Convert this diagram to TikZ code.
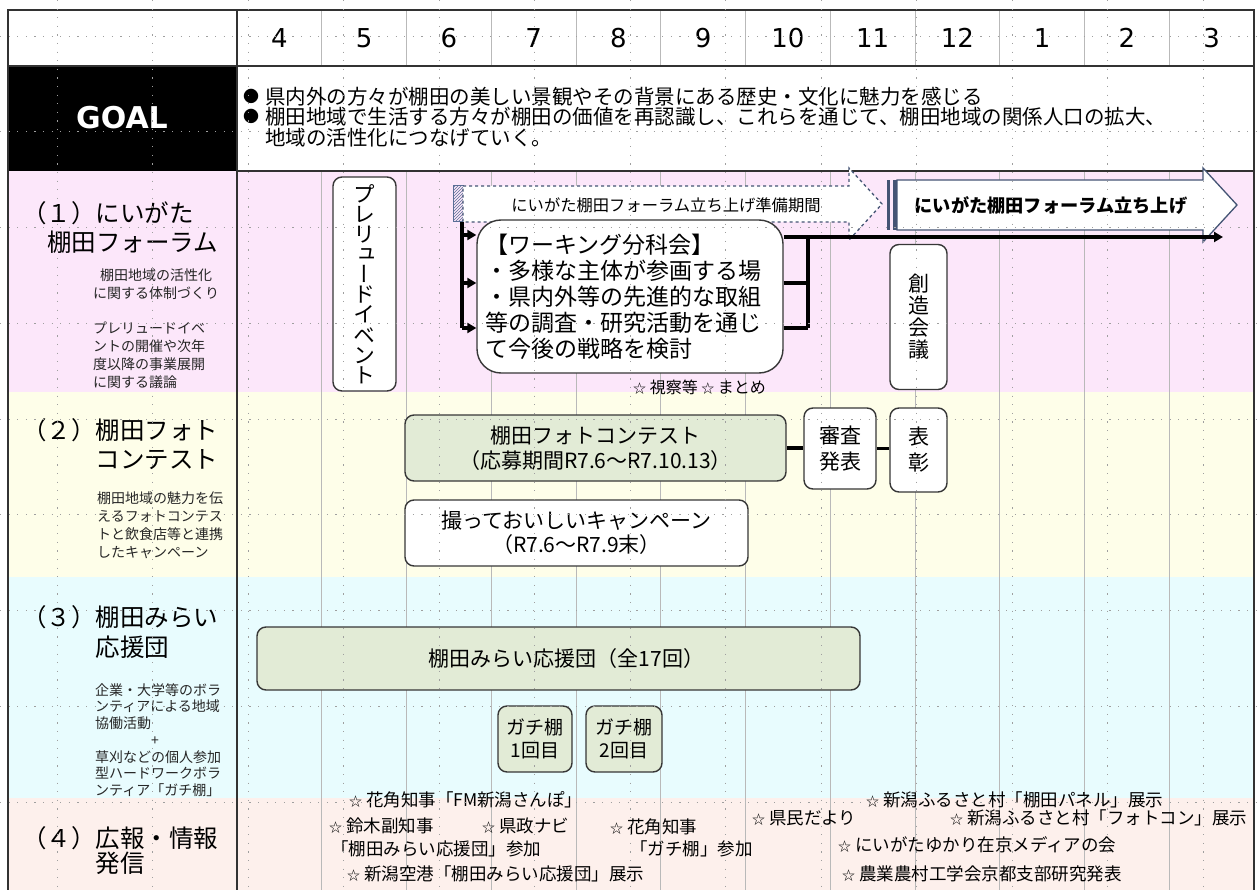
\documentclass[tikz,border=0pt]{standalone}
\usepackage{fontspec}
\usepackage{graphicx}
\setmainfont{Noto Sans CJK JP}
\newfontfamily\latinfont{DejaVu Sans}
\newfontfamily\vertfont[RawFeature={+vert}]{Noto Sans CJK JP}
\usetikzlibrary{arrows.meta,patterns,positioning}
\definecolor{rowpink}{RGB}{252,231,250}
\definecolor{rowyellow}{RGB}{254,254,233}
\definecolor{rowcyan}{RGB}{232,252,254}
\definecolor{rowpeach}{RGB}{253,240,236}
\definecolor{boxgreen}{RGB}{226,235,214}
\definecolor{boxgray}{RGB}{55,55,55}
\definecolor{arrowblue}{RGB}{68,84,116}
\definecolor{hatchblue}{RGB}{90,110,150}
\definecolor{framegray}{RGB}{50,50,50}
\newcommand{\hoshi}{{\fontsize{13}{13}\selectfont ☆}}
\newcommand{\goalbul}{\makebox[22pt][l]{\raisebox{2pt}{\fontsize{16}{16}\selectfont ●}}}

\begin{document}
\begin{tikzpicture}[x=1pt,y=-1pt]
\tikzstyle{tableline}=[draw=framegray,line width=2pt]
\tikzstyle{colline}=[draw=gray!55,line width=0.9pt]
\tikzstyle{dotgrid}=[draw=gray!75,line width=0.9pt,dash pattern=on 1.2pt off 7.4pt]
\tikzstyle{month}=[inner sep=0pt,font=\latinfont\fontsize{26}{26}\selectfont]
\tikzstyle{rowtitle}=[anchor=west,inner sep=0pt,font=\fontsize{24.5}{29}\selectfont]
\tikzstyle{note}=[inner sep=0pt,font=\fontsize{14}{18}\selectfont,text=black!85]
\tikzstyle{plan}=[draw=boxgray,line width=1.4pt,rounded corners=9pt,fill=white,inner sep=0pt,align=center]
\tikzstyle{greenplan}=[plan,fill=boxgreen]
\tikzstyle{wline}=[line width=3.2pt,black]
\tikzstyle{wtip}=[wline,-{Triangle[length=9pt,width=10pt]}]
\tikzstyle{pubtext}=[anchor=west,inner sep=0pt,font=\fontsize{17.5}{21}\selectfont]
\useasboundingbox (0,0) rectangle (1258,890);
\fill[white] (0,0) rectangle (1258,890);
\fill[rowpink] (8,171) rectangle (1254,392);
\fill[rowyellow] (8,392) rectangle (1254,577);
\fill[rowcyan] (8,577) rectangle (1254,798);
\fill[rowpeach] (8,798) rectangle (1254,893);
\fill[black] (8,66) rectangle (237,171);
\foreach \i in {1,...,11} {
  \draw[colline] ({237+84.75*\i},10) -- ({237+84.75*\i},66);
  \draw[colline] ({237+84.75*\i},171) -- ({237+84.75*\i},893);
}
\draw[tableline] (8,10) rectangle (1254,893);
\draw[tableline] (237,10) -- (237,893);
\draw[tableline] (8,66) -- (1254,66);
\draw[framegray,line width=1.5pt] (237,171) -- (1254,171);
\foreach \m [count=\i] in {4,5,6,7,8,9,10,11,12,1,2,3}
  \node[month] (m\i) at ({237+84.75*(\i-0.5)},38) {\m};
\node[text=white,font=\latinfont\bfseries\fontsize{30}{30}\selectfont] (goal) at (122,118) {GOAL};
\node[anchor=west,inner sep=0pt,align=left,font=\fontsize{20.5}{20.5}\selectfont] (aim) at (243,117) {\goalbul 県内外の方々が棚田の美しい景観やその背景にある歴史・文化に魅力を感じる\\\goalbul 棚田地域で生活する方々が棚田の価値を再認識し、これらを通じて、棚田地域の関係人口の拡大、\\\hspace*{22pt}地域の活性化につなげていく。};

\node[rowtitle] (t1a) at (22,213) {（１）にいがた};
\node[rowtitle] (t1b) at (47,242) {棚田フォーラム};
\node[note,align=center] (n1a) at (156,284) {棚田地域の活性化\\に関する体制づくり};
\node[note,align=left,anchor=west] (n1b) at (93,355) {プレリュードイベ\\ントの開催や次年\\度以降の事業展開\\に関する議論};
\node[rowtitle] (t2a) at (22,430) {（２）棚田フォト};
\node[rowtitle] (t2b) at (95.5,460) {コンテスト};
\node[note,align=left,anchor=west] (n2) at (97,525) {棚田地域の魅力を伝\\えるフォトコンテス\\トと飲食店等と連携\\したキャンペーン};
\node[rowtitle] (t3a) at (22,617) {（３）棚田みらい};
\node[rowtitle] (t3b) at (95.5,647) {応援団};
\node[note,align=left,anchor=west,font=\fontsize{14}{16.7}\selectfont] (n3) at (95,740) {企業・大学等のボラ\\ンティアによる地域\\協働活動\\\hspace*{56pt}+\\草刈などの個人参加\\型ハードワークボラ\\ンティア「ガチ棚」};
\node[rowtitle] (t4a) at (22,838) {（４）広報・情報};
\node[rowtitle] (t4b) at (95.5,863) {発信};

\node[plan,minimum width=63,minimum height=214,font=\vertfont\fontsize{22}{20.1}\selectfont] (pre) at (364.5,284) {プ\\レ\\リ\\ュ\\ー\\ド\\イ\\ベ\\ン\\ト};
\fill[pattern=north east lines,pattern color=hatchblue] (453,186) rectangle (463,222);
\draw[hatchblue,line width=1pt] (453,186) rectangle (463,222);
\draw[arrowblue,line width=1.3pt,dashed,fill=white] (463,186) -- (849,186) -- (849,168) -- (882,204) -- (849,240) -- (849,222) -- (463,222) -- cycle;
\node[inner sep=0pt,font=\fontsize{16.3}{16.3}\selectfont] (prep) at (666,205) {にいがた棚田フォーラム立ち上げ準備期間};
\fill[arrowblue] (887,180) rectangle (890,230);
\fill[arrowblue] (893,180) rectangle (897,230);
\draw[arrowblue,line width=1.3pt,fill=white] (897,180) -- (1203,180) -- (1203,168) -- (1237,205) -- (1203,242) -- (1203,230) -- (897,230) -- cycle;
\node[inner sep=0pt,font=\bfseries\fontsize{18.2}{18.2}\selectfont] (launch) at (1051,206) {にいがた棚田フォーラム立ち上げ};
\node[plan,rounded corners=24pt,minimum width=306,minimum height=153,text width=290,align=left,font=\fontsize{23}{26}\selectfont] (wg) at (630,296.5) {【ワーキング分科会】\\・多様な主体が参画する場\\・県内外等の先進的な取組\\等の調査・研究活動を通じ\\て今後の戦略を検討};
\coordinate (fork) at (462,222);
\coordinate (f1) at (462,235);
\coordinate (f2) at (462,283);
\coordinate (f3) at (462,328);
\draw[wline] (fork) -- (f3);
\foreach \f in {f1,f2,f3}
  \draw[wtip] (\f) -- (\f -| wg.west);
\coordinate (j0) at (808,237);
\coordinate (j1) at (808,283);
\coordinate (j2) at (808,328);
\coordinate (fend) at (1223,237);
\draw[wline] (j0) -- (j2);
\draw[wline] (wg.east |- j1) -- (j1);
\draw[wline] (wg.east |- j2) -- (j2);
\draw[wtip] (wg.east |- fend) -- (fend);
\node[anchor=west,inner sep=0pt,font=\fontsize{16}{16}\selectfont] (visit) at (633,387) {\hoshi\ 視察等 \hoshi\ まとめ};
\node[plan,minimum width=57,minimum height=145,font=\fontsize{21}{22}\selectfont] (sozo) at (918.5,317) {創\\造\\会\\議};

\node[greenplan,minimum width=381,minimum height=66,font=\fontsize{21}{25}\selectfont] (photo) at (595.5,448) {棚田フォトコンテスト\\（応募期間R7.6～R7.10.13）};
\node[plan,minimum width=72,minimum height=81,font=\fontsize{21}{26}\selectfont] (shinsa) at (840,448.5) {審査\\発表};
\node[plan,minimum width=57,minimum height=84,font=\fontsize{21}{26}\selectfont] (hyosho) at (918.5,450) {表\\彰};
\draw[wline] (photo.east) -- (photo.east -| shinsa.west);
\draw[wline] (shinsa.east) -- (shinsa.east -| hyosho.west);
\node[plan,minimum width=343,minimum height=66,font=\fontsize{21}{24}\selectfont] (camp) at (576.5,533) {撮っておいしいキャンペーン\\（R7.6～R7.9末）};

\node[greenplan,minimum width=603,minimum height=63,font=\fontsize{21}{21}\selectfont] (ouen) at (558.5,658.5) {\hspace*{16pt}棚田みらい応援団（全17回）};
\node[greenplan,minimum width=74,minimum height=66,font=\fontsize{19}{23}\selectfont] (gachi1) at (535,739) {ガチ棚\\1回目};
\node[greenplan,minimum width=76,minimum height=66,font=\fontsize{19}{23}\selectfont] (gachi2) at (624,739) {ガチ棚\\2回目};

\node[pubtext] (p1) at (349,800) {\hoshi\ 花角知事「FM新潟さんぽ」};
\node[pubtext] (p2) at (329,826) {\hoshi\ 鈴木副知事};
\node[pubtext] (p3) at (331,849) {「棚田みらい応援団」参加};
\node[pubtext] (p4) at (347,874) {\hoshi\ 新潟空港「棚田みらい応援団」展示};
\node[pubtext] (p5) at (482,826) {\hoshi\ 県政ナビ};
\node[pubtext] (p6) at (610,827) {\hoshi\ 花角知事};
\node[pubtext] (p7) at (630,849) {「ガチ棚」参加};
\node[pubtext] (p8) at (752,818) {\hoshi\ 県民だより};
\node[pubtext] (p9) at (866,800) {\hoshi\ 新潟ふるさと村「棚田パネル」展示};
\node[pubtext] (p10) at (950,818) {\hoshi\ 新潟ふるさと村「フォトコン」展示};
\node[pubtext] (p11) at (838,845) {\hoshi\ にいがたゆかり在京メディアの会};
\node[pubtext] (p12) at (842,874) {\hoshi\ 農業農村工学会京都支部研究発表};

\foreach \i in {0,...,12}
  \draw[dotgrid] ({57+95.5*\i},0) -- ({57+95.5*\i},890);
\foreach \j in {0,...,8}
  \draw[dotgrid] (0,{36+95.75*\j}) -- (1258,{36+95.75*\j});
\end{tikzpicture}
\end{document}
